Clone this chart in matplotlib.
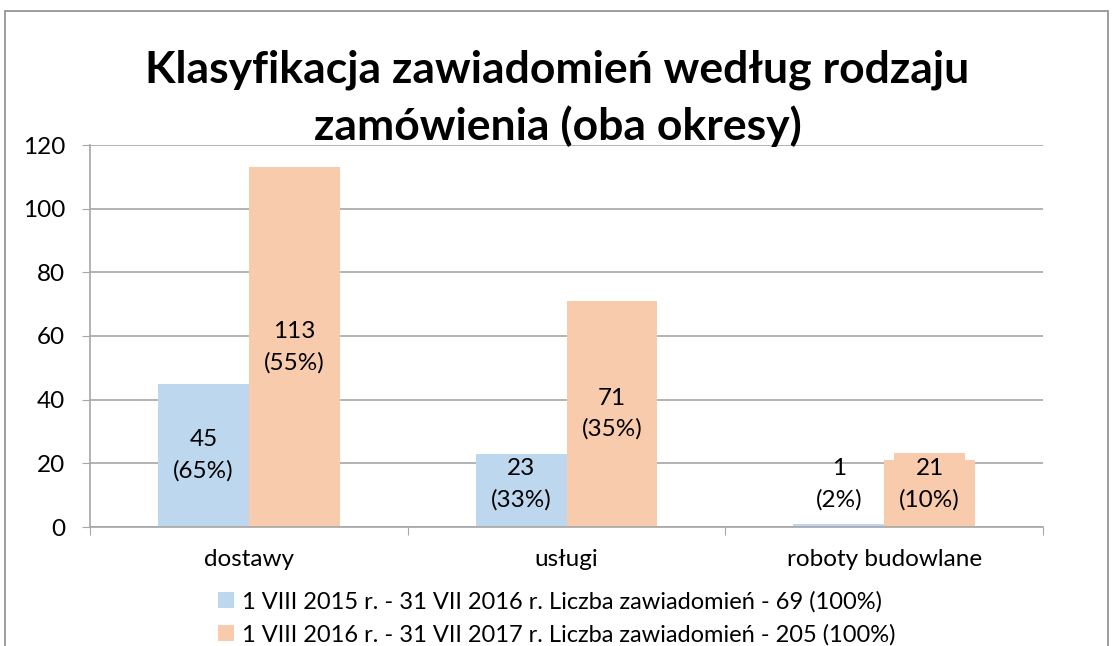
import numpy as np
import matplotlib.pyplot as plt
from matplotlib.patches import Rectangle

plt.rcParams['font.family'] = ['Lato', 'DejaVu Sans']

categories = ['dostawy', 'usługi', 'roboty budowlane']
series_names = ['1 VIII 2015 r. - 31 VII 2016 r. Liczba zawiadomień - 69 (100%)',
                '1 VIII 2016 r. - 31 VII 2017 r. Liczba zawiadomień - 205 (100%)']
vals_2016 = [45, 23, 1]
vals_2017 = [113, 71, 21]
pct_2016 = ['65%', '33%', '2%']
pct_2017 = ['55%', '35%', '10%']

c_blue = '#bdd7ee'
c_orange = '#f8cbad'
grid_c = '#a6a6a6'
fs = 17.5

fig = plt.figure(figsize=(11.15, 6.46), dpi=100)
# outer chart border
fig.patches.append(Rectangle((5/1115, -0.1), 1103/1115, (635+0.1*646)/646, transform=fig.transFigure,
                             fill=False, edgecolor='#8c8c8c', lw=1.2))
ax = fig.add_axes([90/1115, 1 - 527/646, (1043-90)/1115, (527-145)/646])

x = np.arange(len(categories))
w = 0.286
ax.bar(x - w/2, vals_2016, w, color=c_blue, label=series_names[0], zorder=2)
ax.bar(x + w/2, vals_2017, w, color=c_orange, label=series_names[1], zorder=2)

for i in range(len(categories)):
    ax.text(x[i] - w/2, max(vals_2016[i]/2, 13.5), f'{vals_2016[i]}\n({pct_2016[i]})',
            ha='center', va='center', fontsize=fs, linespacing=1.55, zorder=4)
    kw = {}
    if vals_2017[i] < 30:
        kw['bbox'] = dict(boxstyle='square,pad=0.2', fc=c_orange, ec='none')
    ax.text(x[i] + w/2, max(vals_2017[i]/2, 13.5), f'{vals_2017[i]}\n({pct_2017[i]})',
            ha='center', va='center', fontsize=fs, linespacing=1.55, zorder=4, **kw)

ax.set_xlim(-0.5, 2.5)
ax.set_ylim(0, 120)
ax.set_yticks(range(0, 121, 20))
ax.yaxis.grid(True, color=grid_c, lw=1.2, zorder=0)
ax.set_axisbelow(True)
for s in ['top', 'right']:
    ax.spines[s].set_visible(False)
ax.spines['left'].set_color(grid_c)
ax.spines['bottom'].set_color(grid_c)
ax.spines['left'].set_linewidth(1.2)
ax.spines['bottom'].set_linewidth(1.2)
ax.tick_params(axis='y', length=6, color=grid_c, labelsize=fs, pad=12)
ax.set_xticks([-0.5, 0.5, 1.5, 2.5])
ax.set_xticklabels([])
ax.set_xticks(x, minor=True)
ax.set_xticklabels(categories, minor=True)
ax.tick_params(axis='x', which='major', length=6, color=grid_c, direction='out')
ax.tick_params(axis='x', which='minor', length=0, labelsize=fs, pad=16)

fig.text(0.5, 1 - 98/646, 'Klasyfikacja zawiadomień według rodzaju\nzamówienia (oba okresy)',
         ha='center', va='center', fontsize=32, fontweight='bold', linespacing=1.45)

fig.legend(loc='center', bbox_to_anchor=(557/1115, 1 - 618/646), ncol=1, frameon=False,
           fontsize=17, handlelength=0.65, handleheight=0.65, handletextpad=0.35,
           labelspacing=0.5, borderpad=0)

fig.savefig('out.png', dpi=100)
